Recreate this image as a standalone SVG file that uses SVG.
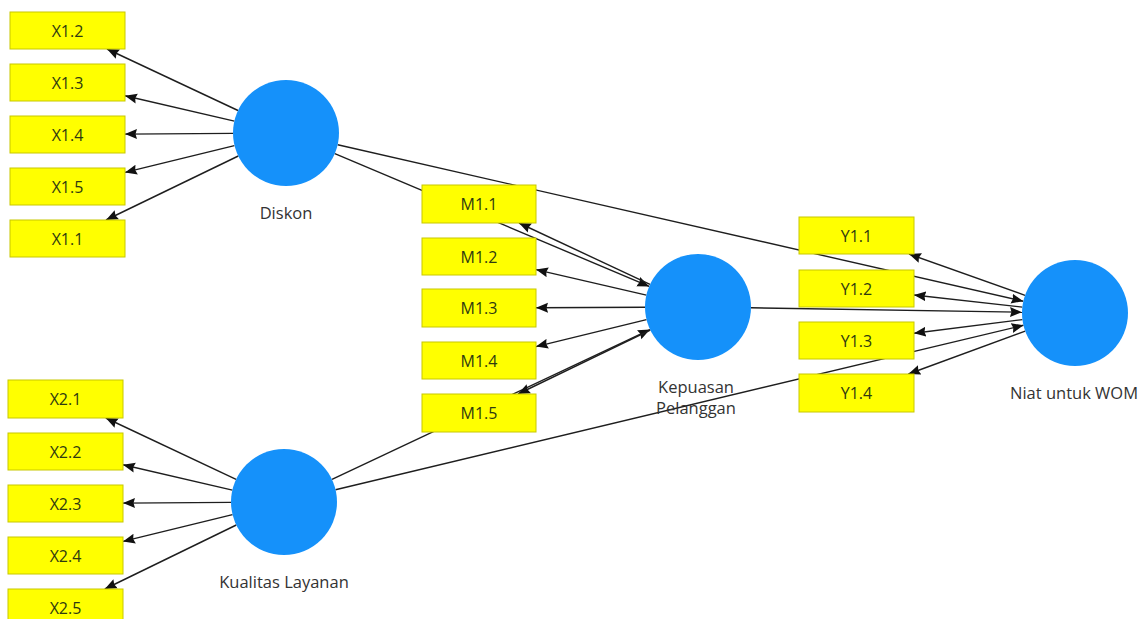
<svg xmlns="http://www.w3.org/2000/svg" width="1148" height="619" viewBox="0 0 1148 619">
<defs>
<marker id="ah" markerUnits="userSpaceOnUse" markerWidth="12" markerHeight="11" refX="12" refY="5.5" orient="auto">
<path d="M0,0.5 L12,5.5 L0,10.5 L1.5,5.5 z" fill="#111"/>
</marker>
<style>
.c{stroke:#1e1e1e;stroke-width:1.4;fill:none;marker-end:url(#ah)}
.b{fill:#FFFF00;stroke:#C8C800;stroke-width:1}
.bt{font-family:"Open Sans","Noto Sans",sans-serif;font-size:16px;fill:#2f3a10;text-anchor:middle}
.lv{fill:#1591FA}
.lt{font-family:"Open Sans","Noto Sans",sans-serif;font-size:16.5px;fill:#333;text-anchor:middle}
</style>
</defs>
<rect width="1148" height="619" fill="#fff"/>
<g id="connectors">
<line class="c" x1="238" y1="110.5" x2="107" y2="49"/>
<line class="c" x1="234.4" y1="121.1" x2="125" y2="95.8"/>
<line class="c" x1="233" y1="133.4" x2="125" y2="134.1"/>
<line class="c" x1="234.4" y1="145.6" x2="125" y2="172.4"/>
<line class="c" x1="238.3" y1="156" x2="106" y2="220"/>
<line class="c" x1="334.8" y1="153.6" x2="649.2" y2="286.4"/>
<line class="c" x1="337.7" y1="144.8" x2="1023.3" y2="301.2"/>
<line class="c" x1="332" y1="479.4" x2="650" y2="329.6"/>
<line class="c" x1="335.5" y1="489.7" x2="1023.5" y2="325.3"/>
<line class="c" x1="751" y1="307.8" x2="1022" y2="312.2"/>
<line class="c" x1="650" y1="284.4" x2="519" y2="223"/>
<line class="c" x1="646.4" y1="295.1" x2="536" y2="269.6"/>
<line class="c" x1="645" y1="307.2" x2="536" y2="307.7"/>
<line class="c" x1="646.5" y1="319.6" x2="536" y2="346.6"/>
<line class="c" x1="650.3" y1="330.1" x2="518" y2="394"/>
<line class="c" x1="1025" y1="295.3" x2="909" y2="254"/>
<line class="c" x1="1022.3" y1="307.1" x2="914" y2="295"/>
<line class="c" x1="1022.4" y1="319.6" x2="914" y2="333.3"/>
<line class="c" x1="1025.2" y1="331.2" x2="908.4" y2="374"/>
<line class="c" x1="236.1" y1="479.4" x2="105.8" y2="418"/>
<line class="c" x1="232.4" y1="490.1" x2="123" y2="464.8"/>
<line class="c" x1="231" y1="502.4" x2="123" y2="503.1"/>
<line class="c" x1="232.5" y1="514.6" x2="123" y2="541.4"/>
<line class="c" x1="236.3" y1="525" x2="104.8" y2="589"/>
</g>
<g id="X1.2"><rect class="b" x="10" y="12" width="115" height="37"/><text class="bt" x="67.5" y="36.5">X1.2</text></g>
<g id="X1.3"><rect class="b" x="10" y="64" width="115" height="37"/><text class="bt" x="67.5" y="88.5">X1.3</text></g>
<g id="X1.4"><rect class="b" x="10" y="116" width="115" height="37"/><text class="bt" x="67.5" y="140.5">X1.4</text></g>
<g id="X1.5"><rect class="b" x="10" y="168" width="115" height="37"/><text class="bt" x="67.5" y="192.5">X1.5</text></g>
<g id="X1.1"><rect class="b" x="10" y="220" width="115" height="37"/><text class="bt" x="67.5" y="244.5">X1.1</text></g>
<g id="X2.1"><rect class="b" x="8" y="380" width="115" height="38"/><text class="bt" x="65.5" y="405">X2.1</text></g>
<g id="X2.2"><rect class="b" x="8" y="433" width="115" height="37"/><text class="bt" x="65.5" y="457.5">X2.2</text></g>
<g id="X2.3"><rect class="b" x="8" y="485" width="115" height="37"/><text class="bt" x="65.5" y="509.5">X2.3</text></g>
<g id="X2.4"><rect class="b" x="8" y="537" width="115" height="37"/><text class="bt" x="65.5" y="561.5">X2.4</text></g>
<g id="X2.5"><rect class="b" x="8" y="589" width="115" height="37"/><text class="bt" x="65.5" y="613.5">X2.5</text></g>
<g id="M1.1"><rect class="b" x="422" y="185" width="114" height="38"/><text class="bt" x="479" y="210">M1.1</text></g>
<g id="M1.2"><rect class="b" x="422" y="238" width="114" height="37"/><text class="bt" x="479" y="262.5">M1.2</text></g>
<g id="M1.3"><rect class="b" x="422" y="289" width="114" height="38"/><text class="bt" x="479" y="314">M1.3</text></g>
<g id="M1.4"><rect class="b" x="422" y="342" width="114" height="37"/><text class="bt" x="479" y="366.5">M1.4</text></g>
<g id="M1.5"><rect class="b" x="422" y="394" width="114" height="38"/><text class="bt" x="479" y="419">M1.5</text></g>
<g id="Y1.1"><rect class="b" x="799" y="217" width="115" height="37"/><text class="bt" x="856.5" y="241.5">Y1.1</text></g>
<g id="Y1.2"><rect class="b" x="799" y="270" width="115" height="37"/><text class="bt" x="856.5" y="294.5">Y1.2</text></g>
<g id="Y1.3"><rect class="b" x="799" y="322" width="115" height="37"/><text class="bt" x="856.5" y="346.5">Y1.3</text></g>
<g id="Y1.4"><rect class="b" x="799" y="374" width="115" height="38"/><text class="bt" x="856.5" y="399">Y1.4</text></g>
<g id="Diskon"><circle class="lv" cx="286" cy="133" r="53"/><text class="lt" x="286" y="219">Diskon</text></g>
<g id="KualitasLayanan"><circle class="lv" cx="284" cy="502" r="53"/><text class="lt" x="284" y="588">Kualitas Layanan</text></g>
<g id="KepuasanPelanggan"><circle class="lv" cx="698" cy="307" r="53"/><text class="lt" x="696" y="393">Kepuasan</text><text class="lt" x="696" y="414">Pelanggan</text></g>
<g id="NiatWOM"><circle class="lv" cx="1075" cy="313" r="53"/><text class="lt" x="1074" y="399">Niat untuk WOM</text></g>
</svg>
